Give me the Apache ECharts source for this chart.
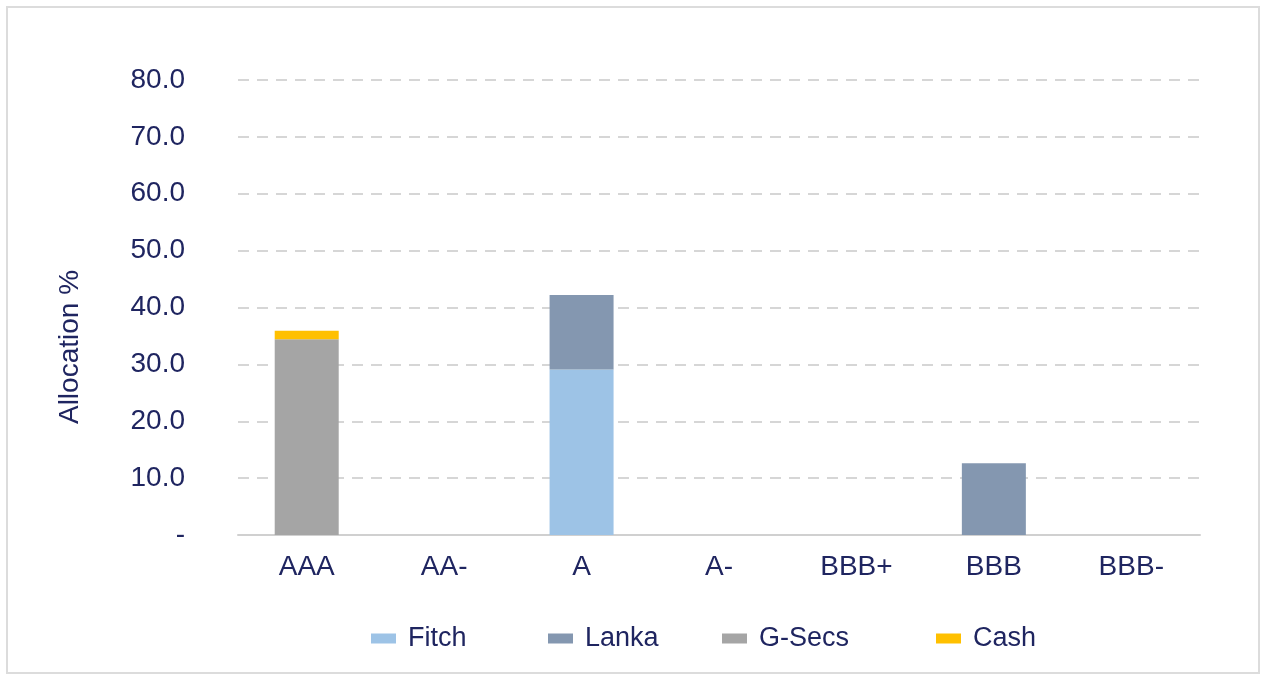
<!DOCTYPE html>
<html>
<head>
<meta charset="utf-8">
<script src="https://cdn.jsdelivr.net/npm/echarts@6/dist/echarts.min.js"></script>
<style>
  html, body { margin: 0; padding: 0; background: #fff; }
  #frame { position: absolute; left: 6px; top: 6px; width: 1254px; height: 668px; border: 2px solid #dcdcdc; box-sizing: border-box; }
  #chart { position: absolute; left: 0; top: 0; width: 1266px; height: 680px; }
</style>
</head>
<body>
<div id="frame"></div>
<div id="chart"></div>
<script>
const ratings = ['AAA', 'AA-', 'A', 'A-', 'BBB+', 'BBB', 'BBB-'];
const fitch = [0, 0, 29.1, 0, 0, 0, 0];
const lanka = [0, 0, 13.1, 0, 0, 12.6, 0];
const gsecs = [34.4, 0, 0, 0, 0, 0, 0];
const cash = [1.5, 0, 0, 0, 0, 0, 0];

const navy = '#1f2560';
const font = 'Liberation Sans, Arial, sans-serif';

function bar(name, data, color) {
  return {
    name: name,
    type: 'bar',
    stack: 'total',
    barWidth: 64,
    data: data,
    itemStyle: { color: color }
  };
}

// one legend per entry so the spacing can follow the original
function legendItem(name, left) {
  return {
    data: [name],
    left: left,
    top: 620,
    itemWidth: 25,
    itemHeight: 10,
    itemGap: 0,
    icon: 'rect',
    textStyle: { color: navy, fontSize: 27, fontFamily: font, padding: [0, 0, 0, 7] }
  };
}

const chart = echarts.init(document.getElementById('chart'));
chart.setOption({
  animation: false,
  textStyle: { fontFamily: font },
  grid: { left: 238, right: 66, top: 80, bottom: 145 },
  legend: [
    legendItem('Fitch', 366),
    legendItem('Lanka', 543),
    legendItem('G-Secs', 717),
    legendItem('Cash', 931)
  ],
  graphic: [{
    type: 'text',
    x: 70,
    y: 347,
    rotation: Math.PI / 2,
    style: {
      text: 'Allocation %',
      fill: navy,
      font: '28px ' + font,
      textAlign: 'center',
      textVerticalAlign: 'middle'
    }
  }],
  xAxis: {
    type: 'category',
    data: ratings,
    axisLine: { lineStyle: { color: '#d0d0d0', width: 2 } },
    axisTick: { show: false },
    axisLabel: { color: navy, fontSize: 28, margin: 18 }
  },
  yAxis: {
    type: 'value',
    min: 0,
    max: 80,
    interval: 10,
    axisLine: { show: false },
    axisTick: { show: false },
    axisLabel: {
      color: navy,
      fontSize: 28,
      margin: 53,
      formatter: v => v === 0 ? '-' : v.toFixed(1)
    },
    splitLine: { lineStyle: { color: '#d6d6d6', type: [11, 8], width: 2 } }
  },
  series: [
    bar('Fitch', fitch, '#9dc3e6'),
    bar('Lanka', lanka, '#8497b0'),
    bar('G-Secs', gsecs, '#a5a5a5'),
    bar('Cash', cash, '#ffc000')
  ]
});
</script>
</body>
</html>
